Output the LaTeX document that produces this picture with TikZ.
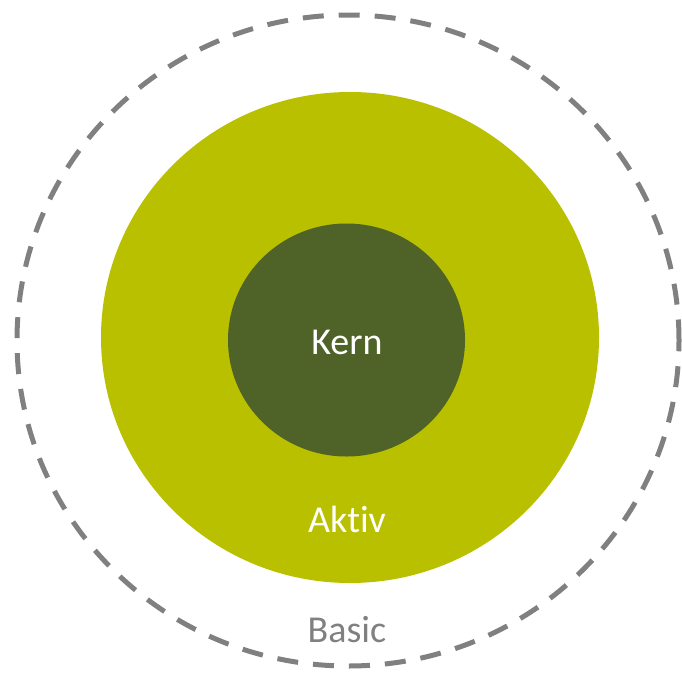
\documentclass[tikz,border=0pt]{standalone}
\usepackage{fontspec}
\setmainfont{Carlito}[Ligatures={NoCommon}]
\usepackage{xcolor}
\usetikzlibrary{shapes.geometric, positioning}
\definecolor{aktivgreen}{RGB}{185,192,0}
\definecolor{kerngreen}{RGB}{79,98,40}
\definecolor{basicgrey}{RGB}{128,128,128}

\begin{document}
\begin{tikzpicture}[x=1pt, y=-1pt]
\tikzstyle{ring} = [ellipse, inner sep=0pt, outer sep=0pt]
\tikzstyle{outer} = [ring, draw=basicgrey, line width=5pt, dash pattern=on 21pt off 15pt, minimum width=662pt, minimum height=651pt]
\tikzstyle{label} = [font=\fontsize{38}{40}\selectfont, inner sep=0pt]

\useasboundingbox (0,0) rectangle (682,672);

\node (basic) [outer] at (348,340.5) {};
\node (aktiv) [ring, fill=aktivgreen, minimum width=498pt, minimum height=491pt] at (350,337.5) {};
\node (kern) [ring, fill=kerngreen, minimum width=237pt, minimum height=233pt] at (346.5,340) {};

\node (kerntext) [label, text=white] at (347,342) {Kern};
\node (aktivtext) [label, text=white] at (347,519) {Aktiv};
\node (basictext) [label, text=basicgrey] at (347,630) {Basic};

\end{tikzpicture}
\end{document}
